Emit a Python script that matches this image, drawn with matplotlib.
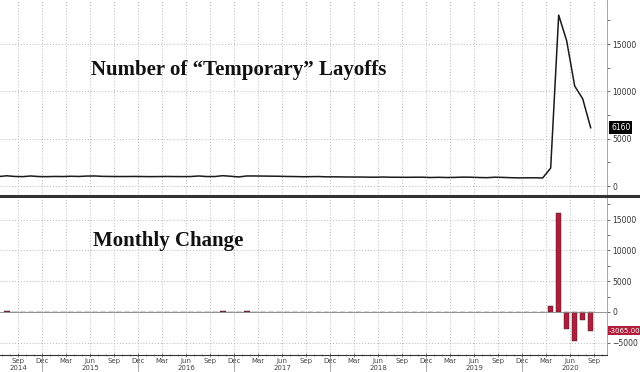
import numpy as np
import matplotlib.pyplot as plt
from matplotlib.lines import Line2D
from matplotlib.ticker import MultipleLocator

# persons on temporary layoff (thousands), monthly, Jun 2014 .. Aug 2020
levels = [
    1000, 1080, 1010, 990, 1060, 1000, 990,                                # 2014 Jun-Dec
    1010, 1000, 1030, 1010, 1050, 1060, 1020, 1010, 1000, 1005, 1010, 1000,  # 2015
    990, 1000, 1010, 1000, 995, 1000, 1060, 1000, 1000, 1090, 1030, 960,    # 2016
    1060, 1060, 1050, 1040, 1030, 1010, 1000, 980, 990, 1000, 970, 970,     # 2017
    960, 950, 950, 940, 930, 950, 930, 925, 920, 930, 930, 900,             # 2018
    920, 900, 910, 940, 930, 900, 880, 930, 910, 880, 860, 870,             # 2019
    870, 850, 1900, 18063, 15343, 10565, 9225, 6160,                        # 2020 Jan-Aug
]
first_month = 5  # months since Jan 2014 -> Jun 2014

quarter_names = ["Sep", "Dec", "Mar", "Jun"]
year_labels = {8: "2014", 17: "2015", 29: "2016", 41: "2017", 53: "2018", 65: "2019", 77: "2020"}

levels = np.array(levels)
changes = np.diff(levels)
x_lvl = first_month + np.arange(len(levels)) + 0.55
x_chg = x_lvl[1:]

tick_t = np.arange(8, 81, 3)
tick_lbl = []
for i, t in enumerate(tick_t):
    s = quarter_names[i % 4]
    if t in year_labels:
        s += "\n" + year_labels[t]
    tick_lbl.append(s)

W, H = 640, 372
fig = plt.figure(figsize=(6.4, 3.72), dpi=100, facecolor="white")
ax1 = fig.add_axes([0, 177 / H, 607 / W, 195 / H])
ax2 = fig.add_axes([0, 17 / H, 607 / W, 158 / H])

grid_kw = dict(color="#b8b8b8", linestyle=(0, (1, 2)), linewidth=0.7)
red = "#b01e3c"

for ax in (ax1, ax2):
    ax.set_xlim(5.71, 81.59)
    ax.set_xticks(tick_t)
    ax.xaxis.set_minor_locator(MultipleLocator(1))
    ax.yaxis.tick_right()
    ax.yaxis.set_major_locator(MultipleLocator(5000))
    ax.yaxis.set_minor_locator(MultipleLocator(2500))
    ax.grid(True, which="major", **grid_kw)
    ax.set_axisbelow(True)
    for s in ("left", "top"):
        ax.spines[s].set_visible(False)
    ax.spines["right"].set_color("#999999")
    ax.spines["right"].set_linewidth(0.6)
    ax.tick_params(axis="y", which="both", direction="out", length=2.5,
                   width=0.6, color="#555555", labelsize=5.5, labelcolor="#333333", pad=1.5)

# top panel
ax1.plot(x_lvl, levels, color="#1a1a1a", linewidth=1.1)
ax1.set_ylim(-950, 19660)
ax1.spines["bottom"].set_visible(False)
ax1.tick_params(axis="x", which="both", length=0, labelbottom=False)
ax1.text(0.150, 0.64, "Number of \u201cTemporary\u201d Layoffs", transform=ax1.transAxes,
         family="Liberation Serif", fontweight="bold", fontsize=15, color="#111111",
         va="center")
ax1.annotate(f"{levels[-1]}", xy=(1, levels[-1]), xycoords=("axes fraction", "data"),
             xytext=(3, 0), textcoords="offset points", va="center", ha="left",
             fontsize=5.5, color="white",
             bbox=dict(boxstyle="square,pad=0.25", fc="black", ec="none"))

# bottom panel
ax2.bar(x_chg, changes, width=0.7, color=red, edgecolor="#222222", linewidth=0.3)
ax2.axhline(0, color="#888888", linewidth=0.6, zorder=1)
ax2.set_ylim(-7000, 18700)
ax2.spines["bottom"].set_color("#333333")
ax2.spines["bottom"].set_linewidth(0.8)
ax2.set_xticklabels(tick_lbl)
ax2.tick_params(axis="x", which="major", direction="inout", length=3, width=0.5,
                color="#555555", labelsize=5, labelcolor="#444444", pad=1)
ax2.tick_params(axis="x", which="minor", direction="inout", length=1.5, width=0.4,
                color="#555555")
for label in ax2.get_xticklabels():
    label.set_linespacing(1.1)
for t in np.arange(11, 80, 12):
    ax2.plot([t, t], [0, -0.12], transform=ax2.get_xaxis_transform(),
             color="#888888", linewidth=0.5, clip_on=False)
ax2.text(0.153, 0.72, "Monthly Change", transform=ax2.transAxes,
         family="Liberation Serif", fontweight="bold", fontsize=15, color="#111111",
         va="center")
ax2.annotate(f"{changes[-1]:.2f}", xy=(1, changes[-1]), xycoords=("axes fraction", "data"),
             xytext=(1.5, 0), textcoords="offset points", va="center", ha="left",
             fontsize=5, color="white",
             bbox=dict(boxstyle="square,pad=0.2", fc=red, ec="none"))

# heavy separator between panels
fig.add_artist(Line2D([0, 1], [1 - 196 / H, 1 - 196 / H], transform=fig.transFigure,
                      color="#333333", linewidth=2.2))

fig.savefig("out.png", dpi=100, facecolor="white")
